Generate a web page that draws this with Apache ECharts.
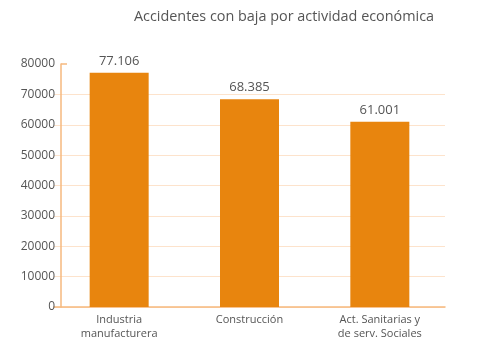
<!DOCTYPE html>
<html><head><meta charset="utf-8">
<script src="https://cdn.jsdelivr.net/npm/echarts@6/dist/echarts.min.js"></script>
<style>html,body{margin:0;padding:0;background:#fff}#c{width:500px;height:360px}</style>
</head><body><div id="c"></div>
<script>
const categories = ['Industria\nmanufacturera', 'Construcción', 'Act. Sanitarias y\nde serv. Sociales'];
const values = [77106, 68385, 61001];
const valueLabels = ['77.106', '68.385', '61.001'];
const yTicks = [0, 10000, 20000, 30000, 40000, 50000, 60000, 70000, 80000];

const font = '"Open Sans", "Noto Sans", sans-serif';
const grid = {left: 54, right: 55, top: 64, bottom: 53};
const splitColors = yTicks.map((v, i) => i === yTicks.length - 1 ? 'rgba(0,0,0,0)' : '#fde3cc');

const chart = echarts.init(document.getElementById('c'), null, {renderer: 'canvas'});
chart.setOption({
  animation: false,
  backgroundColor: '#fff',
  title: {
    text: 'Accidentes con baja por actividad económica',
    left: 279, top: 5, textAlign: 'center',
    textStyle: {fontFamily: font, fontSize: 14.4, fontWeight: 'normal', color: '#555'}
  },
  grid: grid,
  xAxis: {
    type: 'category', data: categories,
    axisLine: {lineStyle: {color: '#f6b97e', width: 1.5}},
    axisTick: {show: false},
    axisLabel: {fontFamily: font, fontSize: 11, color: '#555', margin: 6, lineHeight: 14}
  },
  yAxis: {
    type: 'value', min: yTicks[0], max: yTicks[yTicks.length - 1], interval: 10000,
    offset: -7,
    axisLine: {show: true, lineStyle: {color: '#f6b97e', width: 1.5}},
    axisTick: {show: false},
    splitLine: {lineStyle: {color: splitColors, width: 1}},
    axisLabel: {fontFamily: font, fontSize: 12, color: '#555', margin: 6, formatter: v => String(v)}
  },
  series: [{
    type: 'bar', data: values, barWidth: 59,
    itemStyle: {color: '#e8850e'},
    label: {
      show: true, position: 'top', distance: 5,
      fontFamily: font, fontSize: 13, color: '#555',
      formatter: p => valueLabels[p.dataIndex]
    }
  }]
});
const yTop = chart.convertToPixel({yAxisIndex: 0}, yTicks[yTicks.length - 1]);
const axX = grid.left + 7;
chart.setOption({
  graphic: [{type: 'line', shape: {x1: axX, y1: yTop, x2: axX + 6, y2: yTop}, style: {stroke: '#f6b97e', lineWidth: 1.5}}]
});
</script></body></html>
